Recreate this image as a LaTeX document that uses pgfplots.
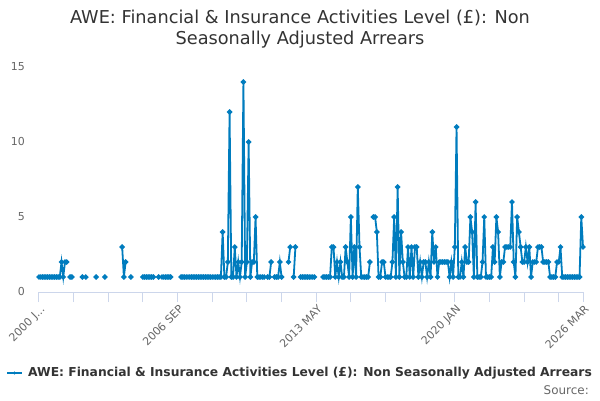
\documentclass[border=0pt]{standalone}
\usepackage{fontspec}
\setmainfont{DejaVu Sans}
\usepackage{pgfplots}
\pgfplotsset{compat=1.18}
\definecolor{line}{RGB}{0,124,190}
\definecolor{axisc}{RGB}{204,214,235}
\definecolor{gridc}{RGB}{230,230,230}
\definecolor{txt}{RGB}{51,51,51}
\definecolor{tick}{RGB}{102,102,102}
\begin{document}
\begin{tikzpicture}[x=1bp,y=1bp]
\path[use as bounding box] (-39,-108) rectangle (561,292);
\begin{axis}[
  at={(0,0)}, anchor=south west, scale only axis,
  width=544bp, height=225bp,
  xmin=0, xmax=314, ymin=0, ymax=15,
  axis y line=none, axis x line*=bottom,
  axis line style={axisc, line width=1bp, -},
  ytick={0,5,10,15},
  ymajorgrids, grid style={gridc, line width=0.8bp},
  xtick={0,80,160,240,314},
  minor xtick={20,40,60,100,120,140,180,200,220,260,280,300},
  xticklabels={{2000 J.\kern0pt.\kern0pt.},2006 SEP,2013 MAY,2020 JAN,2026 MAR},
  xtick style={axisc, line width=1bp},
  minor x tick style={axisc, line width=1bp},
  major tick length=10bp, minor tick length=10bp,
  tick align=outside,
  xticklabel style={rotate=45, anchor=north east, font=\fontsize{11}{13}\selectfont, text=tick, inner sep=1bp, yshift=-1bp},
  /pgf/number format/assume math mode=true,
  unbounded coords=jump,
  clip=false,
]
\addplot[line, line width=1.8bp, mark=*, mark size=1.7bp, mark options={fill=line, draw=none}] coordinates {
(0,1)(1,1)(2,1)(3,1)(4,1)(5,1)(6,1)(7,1)(8,1)(9,1)(10,1)(11,1)(12,1)(13,2)(14,1)(15,2)(16,2)(17,nan)(18,1)(19,1)(20,nan)(25,1)(26,nan)(27,1)(28,nan)(33,1)(34,nan)(38,1)(39,nan)(48,3)(49,1)(50,2)(51,nan)(53,1)(54,nan)(60,1)(61,1)(62,1)(63,1)(64,1)(65,1)(66,1)(67,nan)(69,1)(70,nan)(71,1)(72,1)(73,1)(74,1)(75,1)(76,1)(77,nan)
(82,1)(83,1)(84,1)(85,1)(86,1)(87,1)(88,1)(89,1)(90,1)(91,1)(92,1)(93,1)(94,1)(95,1)(96,1)(97,1)(98,1)(99,1)(100,1)(101,1)(102,1)(103,1)(104,1)(105,1)
(106,4)(107,1)(108,1)(109,2)(110,12)(111,1)(112,1)(113,3)(114,1)(115,2)(116,1)(117,2)(118,14)(119,1)(120,2)(121,10)(122,1)(123,2)(124,2)(125,5)(126,1)(127,1)(128,1)(129,1)(130,1)(131,nan)(132,1)(133,1)(134,2)(135,nan)(136,1)(137,1)(138,1)(139,2)(140,1)(141,nan)(144,2)(145,3)(146,nan)(147,1)(148,3)(149,nan)
(151,1)(152,1)(153,1)(154,1)(155,1)(156,1)(157,1)(158,1)(159,1)(160,nan)
(164,1)(165,1)(166,1)(167,1)(168,1)(169,3)(170,3)(171,1)(172,2)(173,1)(174,2)(175,1)(176,1)(177,3)(178,2)(179,1)(180,5)(181,1)(182,3)(183,1)(184,7)(185,3)(186,1)(187,1)(188,1)(189,1)(190,1)(191,2)(192,nan)(193,5)(194,5)(195,4)(196,1)(197,1)(198,2)(199,2)(200,1)(201,1)(202,1)(203,1)(204,2)(205,5)(206,1)(207,7)(208,1)(209,4)(210,2)(211,1)(212,1)(213,3)(214,1)(215,3)(216,1)(217,3)(218,3)(219,1)(220,2)(221,1)(222,2)(223,2)(224,1)(225,2)(226,1)(227,4)(228,2)(229,3)(230,1)(231,2)(232,2)(233,2)(234,2)(235,2)(236,2)(237,1)(238,2)(239,1)(240,3)(241,11)(242,1)(243,1)(244,2)(245,1)(246,3)(247,2)(248,2)(249,5)(250,4)(251,1)(252,6)(253,1)(254,1)(255,1)(256,2)(257,5)(258,1)(259,1)(260,1)(261,1)(262,3)(263,2)(264,5)(265,4)(266,1)(267,2)(268,2)(269,3)(270,3)(271,3)(272,3)(273,6)(274,2)(275,1)(276,5)(277,4)(278,3)(279,2)(280,2)(281,3)(282,2)(283,3)(284,1)(285,2)(286,2)(287,2)(288,3)(289,3)(290,3)(291,2)(292,2)(293,2)(294,2)(295,1)(296,1)(297,1)(298,1)(299,2)(300,2)(301,3)(302,1)(303,1)(304,1)(305,1)(306,1)(307,1)(308,1)(309,1)(310,1)(311,1)(312,1)(313,5)(314,3)
};
\end{axis}
% y tick labels
\foreach \v in {0,5,10,15} {
  \node[anchor=east, text=tick, font=\fontsize{11}{13}\selectfont, inner sep=0pt] at (-14,{\v*15}) {\v};
}
% title
\node[text=txt, font=\fontsize{17.8}{21}\selectfont, align=center] at (261,263) {AWE: Financial \& Insurance Activities Level (£): Non\\Seasonally Adjusted Arrears};
% legend
\draw[line, line width=1.8bp] (-32,-81) -- (-17,-81);
\fill[line] (-24.5,-81) circle (1.7bp);
\node[anchor=west, text=txt, font=\bfseries\fontsize{12.35}{15}\selectfont, inner sep=0pt] at (-11,-81) {AWE: Financial \& Insurance Activities Level (£): Non Seasonally Adjusted Arrears};
\node[anchor=east, text=tick, font=\fontsize{12}{14}\selectfont, inner sep=0pt] at (550,-98) {Source:};
\end{tikzpicture}
\end{document}
